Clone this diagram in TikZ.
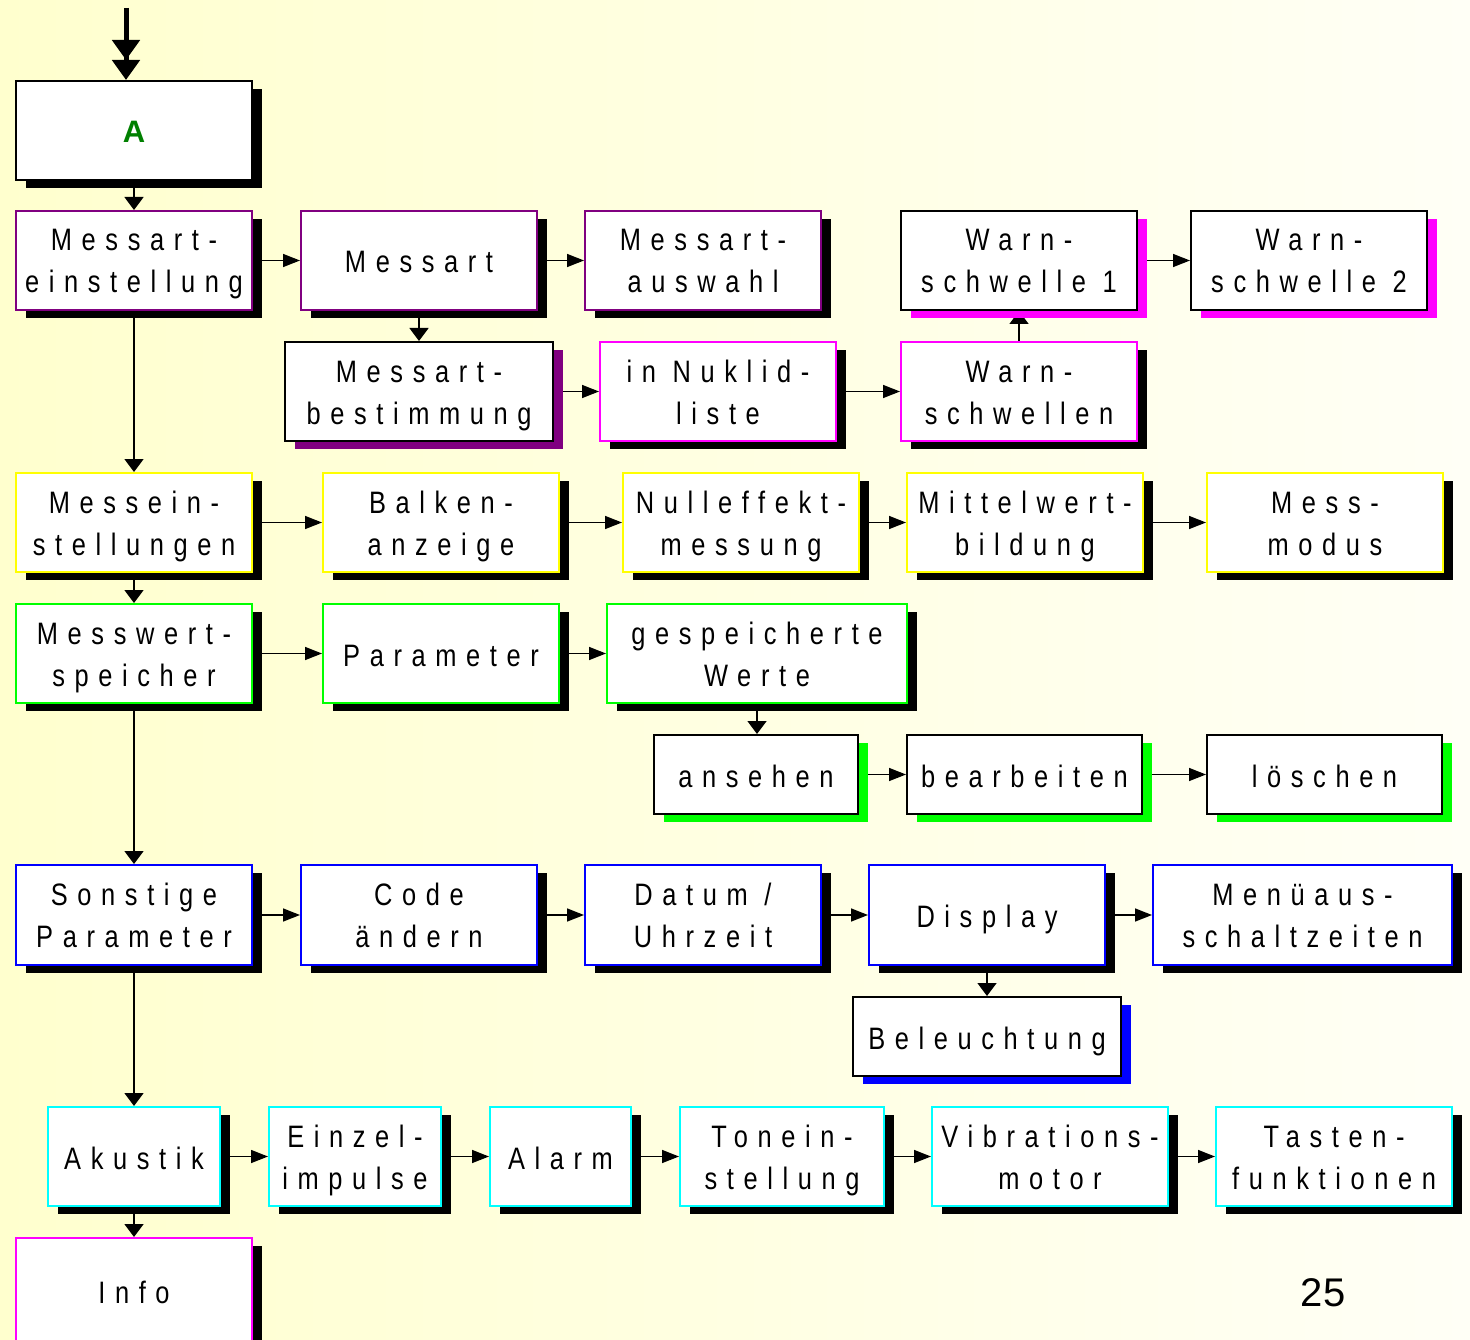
\documentclass[tikz,border=0pt]{standalone}
\usepackage{fontspec}
\setmainfont{Liberation Sans}
\newfontfamily\boxfont[LetterSpace=31,FakeStretch=0.82]{Liberation Sans}
\usetikzlibrary{shadows,arrows.meta}
\definecolor{cpurple}{RGB}{128,0,128}
\definecolor{cmag}{RGB}{255,0,255}
\definecolor{cyel}{RGB}{255,255,0}
\definecolor{cgreen}{RGB}{0,255,0}
\definecolor{cblue}{RGB}{0,0,255}
\definecolor{ccyan}{RGB}{0,255,255}
\definecolor{cdkgreen}{RGB}{0,128,0}
\definecolor{bgleft}{RGB}{255,255,206}
\definecolor{bgright}{RGB}{255,255,246}
\pgfdeclarelayer{bg}
\pgfdeclarelayer{conn}
\pgfsetlayers{bg,conn,main}
\tikzset{
  box/.style={draw=#1, line width=2pt, fill=white, inner sep=0pt, align=center,
    font=\boxfont\fontsize{31}{42}\selectfont, text height=33pt, text depth=8pt},
  two/.style={text height=73pt, text depth=8pt},
  sh/.style={drop shadow={shadow xshift=10pt, shadow yshift=-8pt, fill=#1, opacity=1}},
  harrow/.style={line width=1.5pt, -{Triangle[length=17pt,width=13pt]}},
  varrow/.style={line width=1.5pt, -{Triangle[length=13pt,width=19pt]}},
  bigarrow/.style={line width=5pt, -{Triangle[length=20pt,width=27pt,sep=0pt]Triangle[length=20pt,width=27pt]}},
  pagenum/.style={font=\fontsize{40}{48}\selectfont}
}
\begin{document}
\begin{tikzpicture}[x=1pt,y=-1pt]
\useasboundingbox (0,0) rectangle (1470,1340);
\begin{pgfonlayer}{bg}
  \fill[left color=bgleft, right color=bgright] (0,0) rectangle (1470,1340);
\end{pgfonlayer}

% start
\coordinate (top) at (126,8);
\node[box=black, sh=black, minimum width=236pt, minimum height=99pt] (A) at (134,130.5)
  {\color{cdkgreen}\fontspec{Liberation Sans}\fontsize{31}{42}\selectfont\bfseries A};

% row 1
\node[box=cpurple, two, sh=black, minimum width=236pt, minimum height=99pt] (me) at (134,260.5) {Messart-\\einstellung};
\node[box=cpurple, sh=black, minimum width=236pt, minimum height=99pt] (ma) at (419,260.5) {Messart};
\node[box=cpurple, two, sh=black, minimum width=236pt, minimum height=99pt] (maw) at (703,260.5) {Messart-\\auswahl};
\node[box=black, two, sh=cmag, minimum width=236pt, minimum height=99pt] (ws1) at (1019,260.5) {Warn-\\schwelle 1};
\node[box=black, two, sh=cmag, minimum width=236pt, minimum height=99pt] (ws2) at (1309,260.5) {Warn-\\schwelle 2};

\node[box=black, two, sh=cpurple, minimum width=268pt, minimum height=99pt] (mb) at (419,391.5) {Messart-\\bestimmung};
\node[box=cmag, two, sh=black, minimum width=236pt, minimum height=99pt] (nl) at (718,391.5) {in Nuklid-\\liste};
\node[box=cmag, two, sh=black, minimum width=236pt, minimum height=99pt] (wss) at (1019,391.5) {Warn-\\schwellen};

% row 2
\node[box=cyel, two, sh=black, minimum width=236pt, minimum height=99pt] (mes) at (134,522.5) {Messein-\\stellungen};
\node[box=cyel, two, sh=black, minimum width=236pt, minimum height=99pt] (ba) at (441,522.5) {Balken-\\anzeige};
\node[box=cyel, two, sh=black, minimum width=236pt, minimum height=99pt] (nm) at (741,522.5) {Nulleffekt-\\messung};
\node[box=cyel, two, sh=black, minimum width=236pt, minimum height=99pt] (mw) at (1025,522.5) {Mittelwert-\\bildung};
\node[box=cyel, two, sh=black, minimum width=236pt, minimum height=99pt] (mm) at (1325,522.5) {Mess-\\modus};

% row 3
\node[box=cgreen, two, sh=black, minimum width=236pt, minimum height=99pt] (msp) at (134,653.5) {Messwert-\\speicher};
\node[box=cgreen, sh=black, minimum width=236pt, minimum height=99pt] (par) at (441,653.5) {Parameter};
\node[box=cgreen, two, sh=black, minimum width=300pt, minimum height=99pt] (gw) at (757,653.5) {gespeicherte\\Werte};

\node[box=black, sh=cgreen, minimum width=204pt, minimum height=79pt] (an) at (756,774.5) {ansehen};
\node[box=black, sh=cgreen, minimum width=235pt, minimum height=79pt] (be) at (1024.5,774.5) {bearbeiten};
\node[box=black, sh=cgreen, minimum width=235pt, minimum height=79pt] (lo) at (1324.5,774.5) {löschen};

% row 4
\node[box=cblue, two, sh=black, minimum width=236pt, minimum height=100pt] (sp) at (134,915) {Sonstige\\Parameter};
\node[box=cblue, two, sh=black, minimum width=236pt, minimum height=100pt] (co) at (419,915) {Code\\ändern};
\node[box=cblue, two, sh=black, minimum width=236pt, minimum height=100pt] (du) at (703,915) {Datum /\\Uhrzeit};
\node[box=cblue, sh=black, minimum width=236pt, minimum height=100pt] (di) at (987,915) {Display};
\node[box=cblue, two, sh=black, minimum width=299pt, minimum height=100pt] (ms) at (1302.5,915) {Menüaus-\\schaltzeiten};

\node[box=black, sh=cblue, minimum width=268pt, minimum height=79pt] (bl) at (987,1036.5) {Beleuchtung};

% row 5
\node[box=ccyan, sh=black, minimum width=172pt, minimum height=99pt] (ak) at (134,1156.5) {Akustik};
\node[box=ccyan, two, sh=black, minimum width=172pt, minimum height=99pt] (ei) at (355,1156.5) {Einzel-\\impulse};
\node[box=ccyan, sh=black, minimum width=141pt, minimum height=99pt] (al) at (560.5,1156.5) {Alarm};
\node[box=ccyan, two, sh=black, minimum width=204pt, minimum height=99pt] (ts) at (782,1156.5) {Tonein-\\stellung};
\node[box=ccyan, two, sh=black, minimum width=236pt, minimum height=99pt] (vm) at (1050,1156.5) {Vibrations-\\motor};
\node[box=ccyan, two, sh=black, minimum width=236pt, minimum height=99pt] (tf) at (1334,1156.5) {Tasten-\\funktionen};

\node[box=cmag, sh=black, minimum width=236pt, minimum height=106pt] (info) at (134,1291) {Info};

\node[pagenum] (pg) at (1323,1293) {25};

\begin{pgfonlayer}{conn}
  \draw[bigarrow] (top) -- (top |- A.north);
  \draw[varrow] (A.south) -- (me.north);
  \draw[harrow] (me.east) -- (ma.west);
  \draw[harrow] (ma.east) -- (maw.west);
  \draw[harrow] (ws1.east) -- (ws2.west);
  \draw[varrow] (ma.south) -- (mb.north);
  \draw[harrow] (mb.east) -- (nl.west);
  \draw[harrow] (nl.east) -- (wss.west);
  \draw[varrow] (wss.north) -- (ws1.south);
  \draw[varrow] (me.south) -- (mes.north);
  \draw[harrow] (mes.east) -- (ba.west);
  \draw[harrow] (ba.east) -- (nm.west);
  \draw[harrow] (nm.east) -- (mw.west);
  \draw[harrow] (mw.east) -- (mm.west);
  \draw[varrow] (mes.south) -- (msp.north);
  \draw[harrow] (msp.east) -- (par.west);
  \draw[harrow] (par.east) -- (gw.west);
  \draw[varrow] (gw.south) -- (gw.south |- an.north);
  \draw[harrow] (an.east) -- (be.west);
  \draw[harrow] (be.east) -- (lo.west);
  \draw[varrow] (msp.south) -- (sp.north);
  \draw[harrow] (sp.east) -- (co.west);
  \draw[harrow] (co.east) -- (du.west);
  \draw[harrow] (du.east) -- (di.west);
  \draw[harrow] (di.east) -- (ms.west);
  \draw[varrow] (di.south) -- (bl.north);
  \draw[varrow] (sp.south) -- (ak.north);
  \draw[harrow] (ak.east) -- (ei.west);
  \draw[harrow] (ei.east) -- (al.west);
  \draw[harrow] (al.east) -- (ts.west);
  \draw[harrow] (ts.east) -- (vm.west);
  \draw[harrow] (vm.east) -- (tf.west);
  \draw[varrow] (ak.south) -- (info.north);
\end{pgfonlayer}
\end{tikzpicture}
\end{document}
